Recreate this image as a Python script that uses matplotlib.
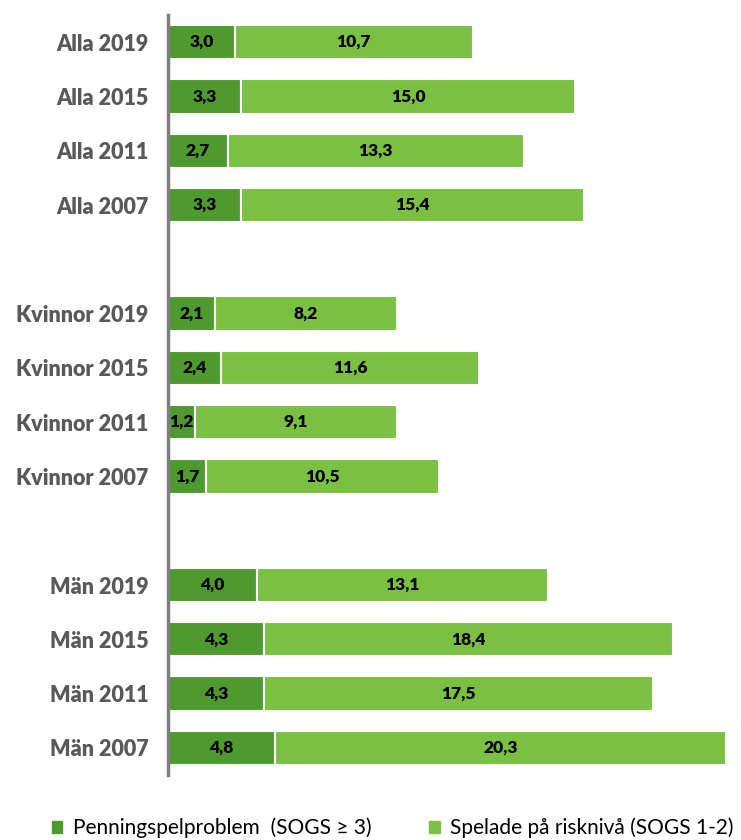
import matplotlib.pyplot as plt
from matplotlib.patches import Patch

# Data
labels = ["Alla 2019", "Alla 2015", "Alla 2011", "Alla 2007", "",
          "Kvinnor 2019", "Kvinnor 2015", "Kvinnor 2011", "Kvinnor 2007", "",
          "Män 2019", "Män 2015", "Män 2011", "Män 2007"]
problem = [3.0, 3.3, 2.7, 3.3, None, 2.1, 2.4, 1.2, 1.7, None, 4.0, 4.3, 4.3, 4.8]
risk = [10.7, 15.0, 13.3, 15.4, None, 8.2, 11.6, 9.1, 10.5, None, 13.1, 18.4, 17.5, 20.3]

dark_c = "#4f9a2f"
light_c = "#7ac143"
label_c = "#595959"
plt.rcParams["font.family"] = ["Lato", "DejaVu Sans"]

fig = plt.figure(figsize=(7.41, 8.4), dpi=100)
ax = fig.add_axes([168 / 741, 1 - 775 / 840, 1 - 168 / 741, 760 / 840])

ys = list(range(len(labels)))
for y, p, r in zip(ys, problem, risk):
    if p is None:
        continue
    ax.barh(y, p, height=0.63, color=dark_c, edgecolor="white", linewidth=1.5)
    ax.barh(y, r, left=p, height=0.63, color=light_c, edgecolor="white", linewidth=1.5)
    ax.text(p / 2, y, f"{p:.1f}".replace(".", ","), ha="center", va="center",
            fontsize=12.5, fontweight="heavy", color="black")
    ax.text(p + r / 2, y, f"{r:.1f}".replace(".", ","), ha="center", va="center",
            fontsize=12.5, fontweight="heavy", color="black")

ax.set_ylim(13.5, -0.5)
ax.set_xlim(0, 25.78)
ax.set_yticks(ys)
ax.set_yticklabels(labels, fontsize=15.5, fontweight="heavy", color=label_c)
ax.tick_params(axis="y", length=0, pad=14)
ax.set_xticks([])
for s in ["top", "right", "bottom"]:
    ax.spines[s].set_visible(False)
ax.spines["left"].set_color("#7f7f7f")
ax.spines["left"].set_linewidth(2.5)

handles = [Patch(color=dark_c, label="Penningspelproblem  (SOGS ≥ 3)"),
           Patch(color=light_c, label="Spelade på risknivå (SOGS 1-2)")]
fig.legend(handles=handles, loc="center", bbox_to_anchor=(0.53, 1 - 828 / 840),
           ncol=2, frameon=False, fontsize=15, handlelength=0.5, handleheight=0.5,
           columnspacing=2.8, handletextpad=0.5)

fig.savefig("out.png", dpi=100)
